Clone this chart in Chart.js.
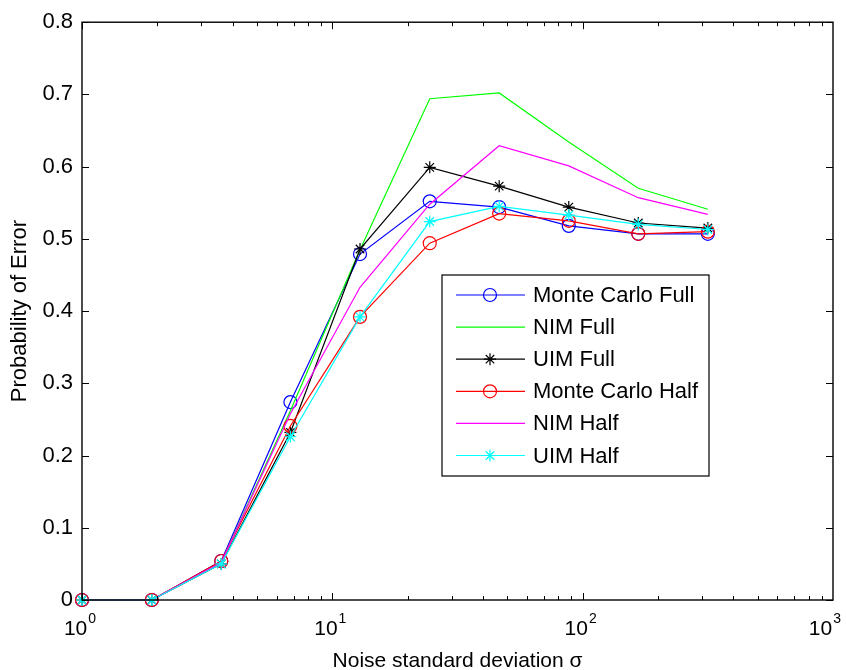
<!DOCTYPE html>
<html><head><meta charset="utf-8">
<script src="https://cdn.jsdelivr.net/npm/chart.js@4.4.1/dist/chart.umd.min.js"></script>
<style>html,body{margin:0;padding:0;background:#fff;}canvas{display:block;}</style>
</head><body>
<canvas id="c" width="846" height="670"></canvas>
<script>
// ---- data ----
const sigma = [1, 1.9, 3.6, 6.8, 12.9, 24.5, 46.4, 88, 166.8, 316.2];
const mcFull  = [0, 0, 0.054, 0.274, 0.479, 0.552, 0.544, 0.518, 0.507, 0.507];
const nimFull = [0, 0, 0.052, 0.262, 0.485, 0.694, 0.702, 0.634, 0.570, 0.541];
const uimFull = [0, 0, 0.050, 0.232, 0.486, 0.599, 0.573, 0.544, 0.522, 0.515];
const mcHalf  = [0, 0, 0.054, 0.241, 0.392, 0.494, 0.535, 0.525, 0.507, 0.510];
const nimHalf = [0, 0, 0.052, 0.258, 0.433, 0.548, 0.629, 0.601, 0.557, 0.534];
const uimHalf = [0, 0, 0.050, 0.226, 0.392, 0.524, 0.545, 0.533, 0.520, 0.513];
const seriesNames = ['Monte Carlo Full', 'NIM Full', 'UIM Full', 'Monte Carlo Half', 'NIM Half', 'UIM Half'];
const xTickValues = [1, 10, 100, 1000];
const xTickExponents = ['0', '1', '2', '3'];
const yTickLabels = ['0', '0.1', '0.2', '0.3', '0.4', '0.5', '0.6', '0.7', '0.8'];
const xTitle = 'Noise standard deviation \u03c3';
const yTitle = 'Probability of Error';

// ---- styles ----
const FONT = "'Liberation Sans', Arial, Helvetica, sans-serif";
const seriesValues = [mcFull, nimFull, uimFull, mcHalf, nimHalf, uimHalf];
const seriesColors = ['#0000ff', '#00ff00', '#000000', '#ff0000', '#ff00ff', '#00ffff'];
const seriesMarkers = ['circle', null, 'star', 'circle', null, 'star'];

function drawMarker(ctx, style, x, y, color) {
  if (!style) return;
  ctx.save();
  ctx.strokeStyle = color; ctx.lineWidth = 1.2;
  ctx.beginPath();
  if (style === 'circle') {
    ctx.arc(x, y, 6.5, 0, Math.PI * 2);
  } else {
    const r = 6;
    for (let k = 0; k < 4; k++) {
      const a = k * Math.PI / 4;
      ctx.moveTo(x - r * Math.cos(a), y - r * Math.sin(a));
      ctx.lineTo(x + r * Math.cos(a), y + r * Math.sin(a));
    }
  }
  ctx.stroke();
  ctx.restore();
}

const datasets = seriesNames.map((name, i) => ({
  label: name,
  data: sigma.map((s, j) => ({x: s, y: seriesValues[i][j]})),
  borderColor: seriesColors[i],
  borderWidth: 1.2,
  backgroundColor: 'rgba(0,0,0,0)',
  pointStyle: seriesMarkers[i] || 'circle',
  pointRadius: seriesMarkers[i] === 'circle' ? 6.5 : (seriesMarkers[i] ? 6 : 0),
  pointBorderColor: seriesColors[i],
  pointBackgroundColor: 'rgba(0,0,0,0)',
  pointBorderWidth: 1.2,
  pointHoverRadius: 0,
  tension: 0,
  fill: false,
  clip: false,
  order: seriesNames.length - i
}));

const framePlugin = {
  id: 'frame',
  afterDraw(chart) {
    const {ctx, chartArea: a, scales: {x, y}} = chart;
    ctx.save();
    ctx.strokeStyle = '#000';
    ctx.lineWidth = 1;
    ctx.beginPath();
    y.ticks.forEach(t => {
      const py = Math.round(y.getPixelForValue(t.value)) + 0.5;
      ctx.moveTo(a.left, py); ctx.lineTo(a.left + 7, py);
      ctx.moveTo(a.right, py); ctx.lineTo(a.right - 7, py);
    });
    for (let d = 1; d < 1000; d *= 10) {
      for (let m = 1; m <= 9; m++) {
        const px = Math.round(x.getPixelForValue(d * m)) + 0.5;
        const len = m === 1 ? 7 : 4;
        ctx.moveTo(px, a.bottom); ctx.lineTo(px, a.bottom - len);
        ctx.moveTo(px, a.top); ctx.lineTo(px, a.top + len);
      }
    }
    ctx.stroke();
    ctx.lineWidth = 1.4;
    ctx.strokeRect(a.left, a.top, a.right - a.left, a.bottom - a.top);

    // x tick labels 10^k
    ctx.fillStyle = '#000';
    ctx.textBaseline = 'alphabetic';
    ctx.textAlign = 'left';
    xTickValues.forEach((v, i) => {
      const px = x.getPixelForValue(v);
      ctx.font = '21px ' + FONT;
      const w1 = ctx.measureText('10').width;
      ctx.font = '14px ' + FONT;
      const w2 = ctx.measureText(xTickExponents[i]).width;
      let x0 = px - 2 - (w1 + w2 + 1) / 2;
      if (x0 + w1 + w2 + 1 > chart.width - 5) x0 = chart.width - 5 - (w1 + w2 + 1);
      ctx.font = '21px ' + FONT;
      ctx.fillText('10', x0, 635);
      ctx.font = '14px ' + FONT;
      ctx.fillText(xTickExponents[i], x0 + w1 + 1, 623);
    });

    // legend
    const L = {x1: 442, y1: 275, x2: 709, y2: 476};
    ctx.fillStyle = '#fff';
    ctx.fillRect(L.x1, L.y1, L.x2 - L.x1, L.y2 - L.y1);
    ctx.lineWidth = 1.2;
    ctx.strokeStyle = '#000';
    ctx.strokeRect(L.x1, L.y1, L.x2 - L.x1, L.y2 - L.y1);
    chart.data.datasets.forEach((ds, i) => {
      const cy = 295 + i * 32.1;
      ctx.strokeStyle = ds.borderColor;
      ctx.lineWidth = 1.2;
      ctx.beginPath(); ctx.moveTo(456, cy); ctx.lineTo(525, cy); ctx.stroke();
      drawMarker(ctx, seriesMarkers[i], 490, cy, ds.borderColor);
      ctx.fillStyle = '#000';
      ctx.font = '22px ' + FONT;
      ctx.textBaseline = 'middle';
      ctx.fillText(ds.label, 533, cy + 1);
    });
    ctx.restore();
  }
};

new Chart(document.getElementById('c'), {
  type: 'line',
  data: {datasets},
  plugins: [framePlugin],
  options: {
    responsive: false,
    animation: false,
    devicePixelRatio: 1,
    layout: {padding: {left: 0, right: 13, top: 12, bottom: 0}},
    plugins: {legend: {display: false}, tooltip: {enabled: false}},
    events: [],
    scales: {
      x: {
        type: 'logarithmic', min: 1, max: 1000, position: 'bottom',
        grid: {display: false, drawTicks: false},
        border: {display: false},
        ticks: {display: false},
        title: {display: true, text: xTitle, color: '#000',
                font: {family: FONT, size: 21, lineHeight: 1}, padding: {top: 0, bottom: -2}},
        afterFit(s) { s.height = 70; }
      },
      y: {
        type: 'linear', min: 0, max: 0.8,
        grid: {display: false, drawTicks: false},
        border: {display: false},
        ticks: {stepSize: 0.1, color: '#000', padding: 9,
                font: {family: FONT, size: 22},
                callback: (v, i) => yTickLabels[i]},
        title: {display: true, text: yTitle, color: '#000',
                font: {family: FONT, size: 22, lineHeight: 1}, padding: {top: 9, bottom: 0}},
        afterFit(s) { s.width = 82; }
      }
    }
  }
});
</script>
</body></html>
